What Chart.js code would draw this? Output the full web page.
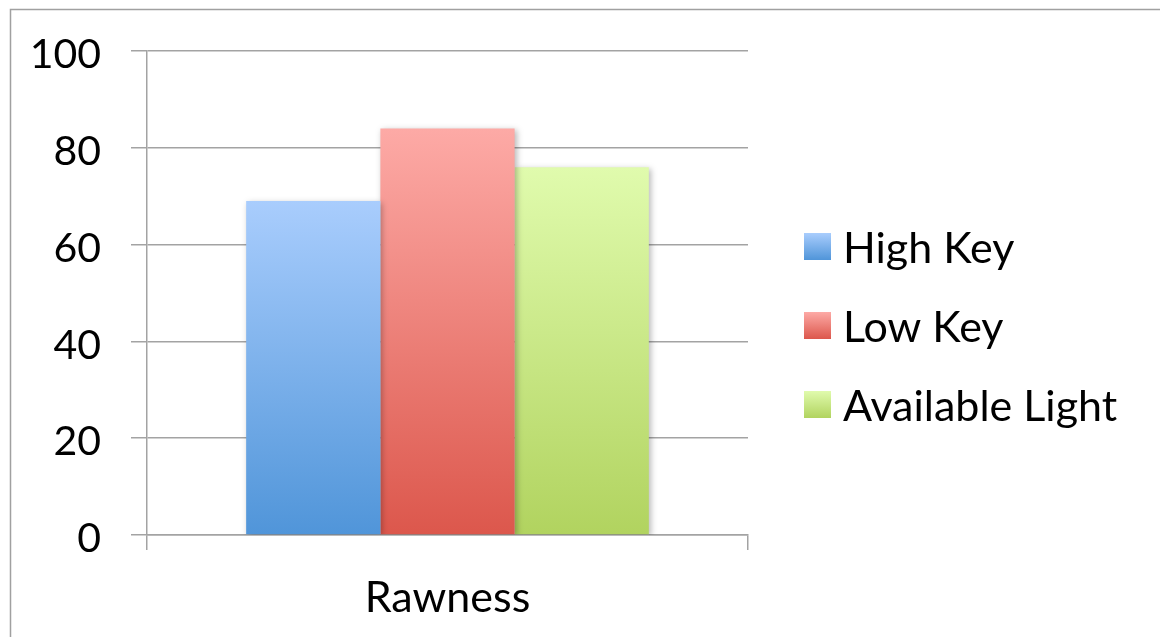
<!DOCTYPE html>
<html>
<head>
<meta charset="utf-8">
<script src="https://cdn.jsdelivr.net/npm/chart.js@4/dist/chart.umd.min.js"></script>
<style>
  html, body { margin: 0; padding: 0; background: #ffffff; }
  #wrap { position: relative; width: 1160px; height: 637px; }
</style>
</head>
<body>
<div id="wrap"><canvas id="chart" width="1160" height="637"></canvas></div>
<script>
// Category and series values
const categories = ['Rawness'];
const seriesNames = ['High Key', 'Low Key', 'Available Light'];
const highKey = [69];
const lowKey = [84];
const availableLight = [76];
const yTicks = [0, 20, 40, 60, 80, 100];

// Top / bottom colours of each series' vertical gradient
const gradientStops = [
  ['#a9cdfd', '#5095d9'],
  ['#fdaaa6', '#dc574c'],
  ['#e0fbad', '#b1d35f']
];

const FONT = 'Lato, "Open Sans", sans-serif';
const GRID = '#a3a3a3';

function barGradient(stops) {
  return (ctx) => {
    const chart = ctx.chart;
    const y = chart.scales && chart.scales.y;
    if (!y || ctx.raw === undefined) return stops[1];
    const top = y.getPixelForValue(ctx.raw);
    const bottom = y.getPixelForValue(0);
    if (!Number.isFinite(top) || !Number.isFinite(bottom) || top === bottom) return stops[1];
    const g = chart.ctx.createLinearGradient(0, top, 0, bottom);
    g.addColorStop(0, stops[0]);
    g.addColorStop(1, stops[1]);
    return g;
  };
}

// Thin frame around the whole figure
const framePlugin = {
  id: 'frame',
  beforeDraw(chart) {
    const c = chart.ctx;
    c.save();
    c.strokeStyle = '#a0a0a0';
    c.lineWidth = 1.5;
    c.beginPath();
    c.moveTo(10.5, 700);
    c.lineTo(10.5, 9.5);
    c.lineTo(1200, 9.5);
    c.stroke();
    c.restore();
  }
};

// Soft drop shadow behind the bars
const shadowPlugin = {
  id: 'barShadow',
  beforeDatasetsDraw(chart) {
    const c = chart.ctx;
    c.save();
    c.shadowColor = 'rgba(0,0,0,0.28)';
    c.shadowBlur = 6;
    c.shadowOffsetX = 2;
    c.shadowOffsetY = 2;
  },
  afterDatasetsDraw(chart) {
    chart.ctx.restore();
  }
};

// Legend at the right with gradient swatches
const legendPlugin = {
  id: 'sideLegend',
  afterDraw(chart) {
    const c = chart.ctx;
    const boxX = 804, box = 27, textX = 843;
    const firstY = 233, step = 79;
    c.save();
    chart.data.datasets.forEach((ds, i) => {
      const y = firstY + i * step;
      const g = c.createLinearGradient(0, y, 0, y + box);
      g.addColorStop(0, gradientStops[i][0]);
      g.addColorStop(1, gradientStops[i][1]);
      c.fillStyle = g;
      c.fillRect(boxX, y, box, box);
      c.fillStyle = '#000000';
      c.font = '43px ' + FONT;
      c.textBaseline = 'middle';
      c.textAlign = 'left';
      c.fillText(ds.label, textX, y + box / 2 + 3);
    });
    c.restore();
  }
};

const seriesValues = [highKey, lowKey, availableLight];

new Chart(document.getElementById('chart'), {
  type: 'bar',
  data: {
    labels: categories,
    datasets: seriesNames.map((name, i) => ({
      label: name,
      data: seriesValues[i],
      backgroundColor: barGradient(gradientStops[i]),
      borderWidth: 0,
      categoryPercentage: 0.67,
      barPercentage: 1.0
    }))
  },
  options: {
    responsive: false,
    animation: false,
    devicePixelRatio: 1,
    layout: { padding: { left: 0, top: 51, right: 412, bottom: 0 } },
    plugins: {
      legend: { display: false },
      tooltip: { enabled: false },
      title: { display: false }
    },
    scales: {
      x: {
        offset: true,
        grid: {
          offset: true,
          drawOnChartArea: false,
          drawTicks: true,
          tickLength: 15,
          color: GRID,
          lineWidth: 1.5
        },
        border: { display: true, color: GRID, width: 1.5 },
        ticks: {
          color: '#000000',
          font: { family: FONT, size: 43 },
          padding: 22
        },
        afterFit(scale) {
          scale.height = 102;
          scale.paddingLeft = 0;
          scale.paddingRight = 0;
        }
      },
      y: {
        min: 0,
        max: 100,
        afterBuildTicks(scale) {
          scale.ticks = yTicks.map(v => ({ value: v }));
        },
        grid: {
          drawOnChartArea: true,
          drawTicks: true,
          tickLength: 16,
          color: GRID,
          lineWidth: 1.5
        },
        border: { display: true, color: GRID, width: 1.5 },
        ticks: {
          color: '#000000',
          font: { family: FONT, size: 41 },
          padding: 30,
          labelOffset: 4
        },
        afterFit(scale) {
          scale.width = 147;
          scale.paddingTop = 0;
          scale.paddingBottom = 0;
        }
      }
    }
  },
  plugins: [framePlugin, shadowPlugin, legendPlugin]
});
</script>
</body>
</html>
